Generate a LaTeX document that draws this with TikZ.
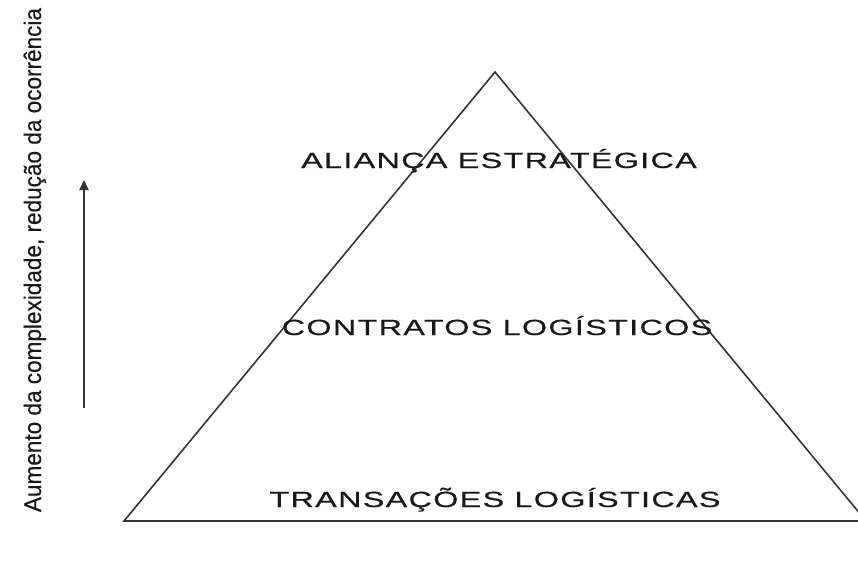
\documentclass[tikz,border=0pt]{standalone}
\usepackage{fontspec}
\setmainfont{Liberation Sans}
\newfontfamily\layerfont[FakeStretch=1.47,LetterSpace=6,FakeBold=0.4]{Liberation Sans}
\newfontfamily\axisfont[FakeStretch=0.94,FakeBold=0.3]{Liberation Sans}
\usetikzlibrary{arrows.meta}

\begin{document}
\begin{tikzpicture}[
            x=1pt, y=-1pt, % pixel-like units, y grows downward
            side/.style={draw=black!80, line width=1.6pt}, % triangle sides
            layer/.style={font=\layerfont\fontsize{22}{22}\selectfont, text=black!90, anchor=base, inner sep=0pt}, % level labels
            axis/.style={font=\axisfont\fontsize{24}{24}\selectfont, text=black!90, rotate=90, anchor=base, inner sep=0pt} % side caption
            ]

            \useasboundingbox (0,0) rectangle (858,573);
            \clip (0,0) rectangle (858,573);

            % Corners of the pyramid
            \coordinate (top) at (495,72);
            \coordinate (left) at (124,521);
            \coordinate (right) at (866,521);

            \draw[side] (left) -- (top) -- (right) -- cycle;

            % Levels, from top to bottom
            \node[layer] (alianca) at (499,168) {ALIANÇA ESTRATÉGICA};
            \node[layer] (contratos) at (497,335) {CONTRATOS LOGÍSTICOS};
            \node[layer] (transacoes) at (495,507) {TRANSAÇÕES LOGÍSTICAS};

            % Caption and arrow on the left
            \node[axis] (caption) at (41,260) {Aumento da complexidade, redução da ocorrência};
            \coordinate (arrowfoot) at (84,408);
            \coordinate (arrowhead) at (84,180);
            \draw[draw=black!80, line width=2pt, -{Triangle[length=10pt,width=9pt]}] (arrowfoot) -- (arrowhead);

\end{tikzpicture}
\end{document}
